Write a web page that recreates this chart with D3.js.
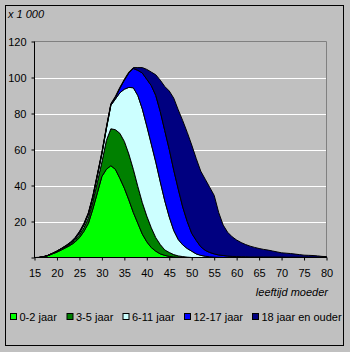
<!DOCTYPE html>
<html>
<head>
<meta charset="utf-8">
<script src="https://cdn.jsdelivr.net/npm/d3@7"></script>
<style>
  html, body { margin: 0; padding: 0; background: #c0c0c0; }
  svg { display: block; font-family: Arial, "Liberation Sans", sans-serif; }
</style>
</head>
<body>
<svg id="chart" width="350" height="352"></svg>
<script>
// ---- data ----
const ages = d3.range(15, 81); // leeftijd moeder 15..80
const seriesNames = ["0-2 jaar", "3-5 jaar", "6-11 jaar", "12-17 jaar", "18 jaar en ouder"];
const seriesColors = ["#00ff00", "#008000", "#ccffff", "#0000ff", "#000080"];

// values x 1 000, per age 15..80
const s0_2 = [
  0, 0, 0.3, 1, 2, 3, 4.2, 5.5, 6.8, 8.5,
  11, 14.5, 19, 27, 36, 45, 49, 51, 49, 44,
  38.5, 32, 25, 19, 13, 8.7, 5.5, 3.5, 2, 1.2,
  0.6, 0.3, 0.1, 0, 0, 0, 0, 0, 0, 0,
  0, 0, 0, 0, 0, 0, 0, 0, 0, 0,
  0, 0, 0, 0, 0, 0, 0, 0, 0, 0,
  0, 0, 0, 0, 0, 0
];
const s3_5 = [
  0, 0, 0.1, 0.1, 0.2, 0.3, 0.4, 0.5, 0.7, 1,
  1.5, 2, 3, 4, 6, 8, 16, 20.5, 22, 25,
  26, 25.5, 24, 20.5, 17.5, 14.3, 11, 7.5, 5.2, 3,
  2.2, 1.3, 0.8, 0.5, 0.2, 0, 0, 0, 0, 0,
  0, 0, 0, 0, 0, 0, 0, 0, 0, 0,
  0, 0, 0, 0, 0, 0, 0, 0, 0, 0,
  0, 0, 0, 0, 0, 0
];
const s6_11 = [
  0, 0, 0, 0.1, 0.1, 0.2, 0.3, 0.3, 0.5, 0.8,
  1, 1.5, 2, 2.5, 3.5, 4.5, 6.5, 13, 17, 22.5,
  29, 37, 45.3, 50.5, 52, 50, 46.5, 42, 34.8, 27.3,
  19.7, 13.4, 9.1, 6.5, 4.8, 3.5, 2, 1.2, 0.7, 0.4,
  0.2, 0.1, 0, 0, 0, 0, 0, 0, 0, 0,
  0, 0, 0, 0, 0, 0, 0, 0, 0, 0,
  0, 0, 0, 0, 0, 0
];
const s12_17 = [
  0, 0, 0, 0, 0, 0, 0.1, 0.2, 0.3, 0.3,
  0.5, 0.5, 0.5, 0.5, 0.5, 0.5, 0.5, 0.5, 0.8, 2.5,
  5, 8, 10.7, 14, 20, 26, 32.5, 37, 39, 39,
  37.5, 33.5, 28, 21, 15, 9.9, 7.5, 4.8, 3.3, 2.4,
  1.8, 1.3, 1.1, 0.8, 0.6, 0.5, 0.4, 0.4, 0.3, 0.3,
  0.3, 0.3, 0.3, 0.3, 0.3, 0.3, 0.2, 0.2, 0.2, 0.2,
  0.2, 0.2, 0.2, 0.2, 0.2, 0.2
];
const s18plus = [
  0, 0.1, 0.1, 0, 0, 0.1, 0.1, 0.2, 0.2, 0.4,
  0.5, 0.5, 0.5, 0.5, 0.5, 0.5, 0.5, 0.5, 0.7, 0.5,
  0.5, 0.5, 0.5, 1.5, 3, 5.5, 7.5, 11.5, 17.5, 24.5,
  32.5, 40, 44, 48, 49.5, 49.1, 45.5, 42, 39.5, 36.2,
  32.5, 23.6, 16.9, 13.2, 10.9, 9.2, 7.9, 6.8, 6, 5.3,
  4.7, 4.2, 3.8, 3.3, 2.8, 2.3, 2.2, 2, 1.7, 1.4,
  1.1, 1, 0.9, 0.7, 0.4, 0.3
];
const xTicks = [15, 20, 25, 30, 35, 40, 45, 50, 55, 60, 65, 70, 75, 80];
const yTicks = [0, 20, 40, 60, 80, 100, 120];
const unitLabel = "x 1 000";
const xTitle = "leeftijd moeder";

// ---- build table ----
const allSeries = [s0_2, s3_5, s6_11, s12_17, s18plus];
const table = ages.map((a, i) => {
  const row = { age: a };
  seriesNames.forEach((n, k) => row[n] = allSeries[k][i]);
  return row;
});
const stacked = d3.stack().keys(seriesNames)(table);

// ---- layout ----
const svg = d3.select("#chart");
const pLeft = 34.5, pRight = 326.5, pTop = 41.5, pBottom = 257.5;
const x = d3.scaleLinear().domain([15, 80]).range([pLeft, pRight]);
const y = d3.scaleLinear().domain([0, 120]).range([pBottom, pTop]);

svg.append("rect").attr("x", 0).attr("y", 0).attr("width", 350).attr("height", 352).attr("fill", "#c0c0c0");
svg.append("rect").attr("x", 5.5).attr("y", 5.5).attr("width", 338).attr("height", 340)
  .attr("fill", "#c0c0c0").attr("stroke", "#000").attr("stroke-width", 1);

// gridlines
svg.append("g").selectAll("line").data(yTicks.filter(v => v > 0 && v < 120)).join("line")
  .attr("x1", pLeft).attr("x2", pRight)
  .attr("y1", d => Math.round(y(d)) + 0.5).attr("y2", d => Math.round(y(d)) + 0.5)
  .attr("stroke", "#ffffff").attr("stroke-width", 1);

// plot border top/right
svg.append("path")
  .attr("d", `M${pLeft},${pTop}H${pRight}V${pBottom}`)
  .attr("fill", "none").attr("stroke", "#808080");

// areas
const area = d3.area()
  .x(d => x(d.data.age))
  .y0(d => y(d[0]))
  .y1(d => y(d[1]));
svg.append("g").selectAll("path").data(stacked).join("path")
  .attr("d", area)
  .attr("fill", (d, i) => seriesColors[i])
  .attr("stroke", "#000")
  .attr("stroke-width", 1)
  .attr("stroke-linejoin", "miter");

// axes
const yAxis = d3.axisLeft(y).tickValues(yTicks).tickSize(3).tickPadding(5)
  .tickFormat(d => d === 0 ? "" : d);
const gy = svg.append("g").attr("transform", `translate(${pLeft},0)`).call(yAxis);
const xAxis = d3.axisBottom(x).tickValues(xTicks).tickSize(3).tickPadding(9).tickFormat(d => d);
const gx = svg.append("g").attr("transform", `translate(0,${pBottom})`).call(xAxis);
[gx, gy].forEach(g => {
  g.select(".domain").attr("stroke", "#000");
  g.selectAll(".tick line").attr("stroke", "#000");
  g.selectAll("text").attr("fill", "#000").attr("font-size", 11)
    .attr("font-family", "Arial, 'Liberation Sans', sans-serif");
});
gx.select(".domain").attr("d", `M${pLeft},0H${pRight}`);
gy.select(".domain").attr("d", `M0,${pTop}V${pBottom}`);

// labels
svg.append("text").attr("x", 8).attr("y", 18).attr("font-size", 11).attr("font-style", "italic")
  .text(unitLabel);
svg.append("text").attr("x", 328).attr("y", 296).attr("font-size", 11).attr("font-style", "italic")
  .attr("text-anchor", "end").text(xTitle);

// legend
const legendX = [10, 66.5, 122.5, 184, 252];
const lg = svg.append("g").selectAll("g").data(seriesNames).join("g")
  .attr("transform", (d, i) => `translate(${legendX[i]},0)`);
lg.append("rect").attr("x", 0.5).attr("y", 313.5).attr("width", 6).attr("height", 6)
  .attr("fill", (d, i) => seriesColors[i]).attr("stroke", "#000");
lg.append("text").attr("x", 9.5).attr("y", 321).attr("font-size", 11).text(d => d);
</script>
</body>
</html>
